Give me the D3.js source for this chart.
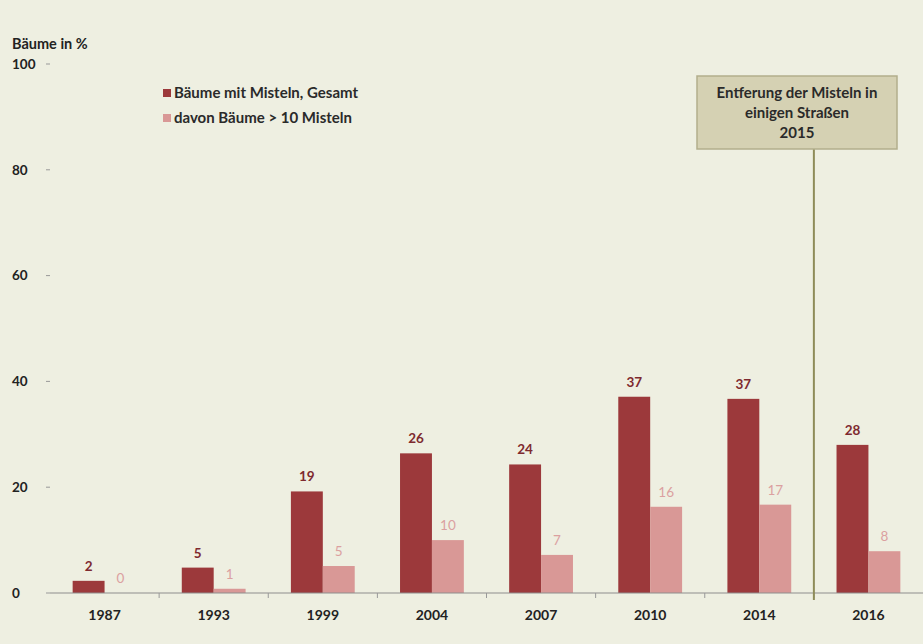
<!DOCTYPE html>
<html><head><meta charset="utf-8">
<script src="https://cdn.jsdelivr.net/npm/d3@7"></script>
<style>body{margin:0;background:#eeefe1}svg{display:block}</style>
</head><body>
<script>
const years = ["1987","1993","1999","2004","2007","2010","2014","2016"];
const totalValues = [2.3, 4.8, 19.2, 26.4, 24.3, 37.1, 36.7, 28.0];
const over10Values = [0, 0.8, 5.1, 10.0, 7.2, 16.3, 16.7, 7.9];
const yTicks = [0, 20, 40, 60, 80, 100];
const seriesNames = ["Bäume mit Misteln, Gesamt", "davon Bäume > 10 Misteln"];
const annotationLines = ["Entferung der Misteln in", "einigen Straßen", "2015"];
const yAxisTitle = "Bäume in %";

const W = 923, H = 644;
const font = "Lato, 'Open Sans', sans-serif";
const darkC = "#9c393b", lightC = "#d99896";
const svg = d3.select("body").append("svg").attr("width", W).attr("height", H);
svg.append("rect").attr("width", W).attr("height", H).attr("fill", "#eeefe1");

const x = d3.scaleBand().domain(years).range([50, 923]).paddingInner(0).paddingOuter(0);
const sub = d3.scaleBand().domain([0,1]).range([0, x.bandwidth()]).paddingOuter(0.71).paddingInner(0);
const y = d3.scaleLinear().domain([0, 100]).range([593, 64]);

// y ticks
const yg = svg.append("g");
yTicks.forEach(t => {
  yg.append("line").attr("x1", 46).attr("x2", 50).attr("y1", y(t)).attr("y2", y(t)).attr("stroke", "#999");
  yg.append("text").attr("x", 12).attr("y", y(t)).attr("dy", "0.35em")
    .attr("font-family", font).attr("font-weight", "bold").attr("font-size", 13.5).attr("fill", "#222").text(t);
});
svg.append("text").attr("x", 12).attr("y", 49).attr("font-family", font).attr("font-weight", "bold")
  .attr("font-size", 14.5).attr("fill", "#222").text(yAxisTitle);

// bars
const series = [totalValues, over10Values];
const colors = [darkC, lightC];
series.forEach((vals, si) => {
  svg.append("g").selectAll("rect").data(vals).join("rect")
    .attr("x", (d, i) => x(years[i]) + sub(si))
    .attr("width", sub.bandwidth())
    .attr("y", d => y(d))
    .attr("height", d => y(0) - y(d))
    .attr("fill", colors[si]);
  svg.append("g").selectAll("text").data(vals).join("text")
    .attr("x", (d, i) => x(years[i]) + sub(si) + sub.bandwidth() / 2)
    .attr("y", d => y(d) - 10)
    .attr("text-anchor", "middle")
    .attr("font-family", font).attr("font-size", 13.5)
    .attr("font-weight", si === 0 ? "bold" : "normal")
    .attr("fill", si === 0 ? "#7e2a2f" : "#dba0a0")
    .text(d => d3.format(".0f")(d));
});

// x axis
svg.append("line").attr("x1", 50).attr("x2", 923).attr("y1", y(0)).attr("y2", y(0)).attr("stroke", "#8d8d8d").attr("stroke-width", 1.2);
years.slice(1).forEach(yr => {
  svg.append("line").attr("x1", x(yr)).attr("x2", x(yr)).attr("y1", y(0)).attr("y2", y(0) + 5).attr("stroke", "#999");
});
svg.append("g").selectAll("text").data(years).join("text")
  .attr("x", d => x(d) + x.bandwidth() / 2).attr("y", 620)
  .attr("text-anchor", "middle").attr("font-family", font).attr("font-weight", "bold")
  .attr("font-size", 14).attr("fill", "#222").text(d => d);

// annotation
const ax = x("2016");
svg.append("line").attr("x1", ax).attr("x2", ax).attr("y1", 149).attr("y2", y(0) + 7)
  .attr("stroke", "#8e8c58").attr("stroke-width", 2);
const bx = 697, by = 76, bw = 200, bh = 73;
svg.append("rect").attr("x", bx).attr("y", by).attr("width", bw).attr("height", bh)
  .attr("fill", "#d5d1b3").attr("stroke", "#b2ae8c").attr("stroke-width", 1.5);
annotationLines.forEach((l, i) => {
  svg.append("text").attr("x", bx + bw / 2).attr("y", by + 22 + i * 20).attr("text-anchor", "middle")
    .attr("font-family", font).attr("font-weight", "bold").attr("font-size", 15).attr("fill", "#2a2a2a").text(l);
});

// legend
seriesNames.forEach((n, i) => {
  const ly = 93 + i * 25;
  svg.append("rect").attr("x", 163).attr("y", ly - 4).attr("width", 8).attr("height", 8).attr("fill", colors[i]);
  svg.append("text").attr("x", 174).attr("y", ly).attr("dy", "0.35em").attr("font-family", font)
    .attr("font-weight", "bold").attr("font-size", 15).attr("fill", "#2a2a2a").text(n);
});
</script>
</body></html>
